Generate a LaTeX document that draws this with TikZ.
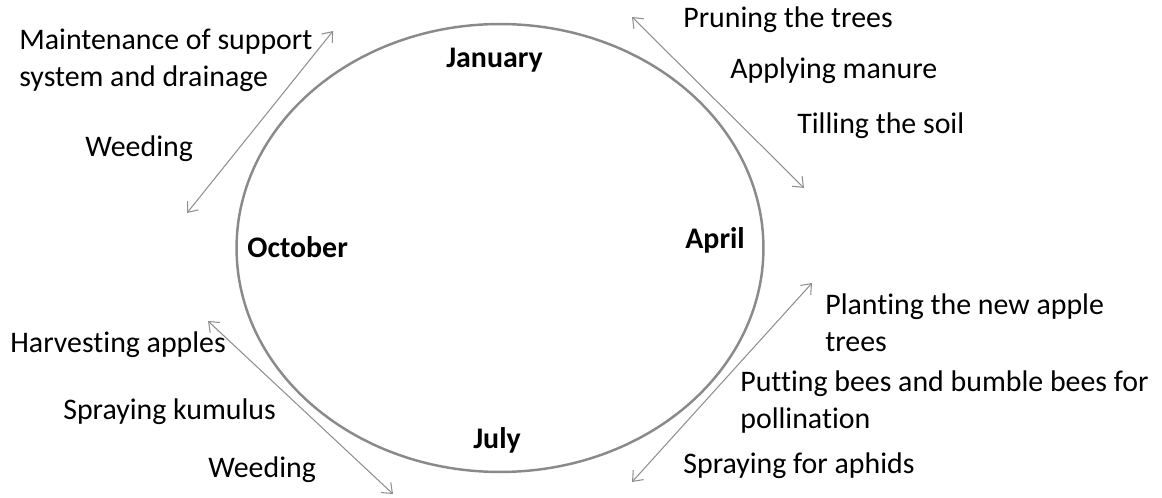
\documentclass[tikz,border=0pt]{standalone}
\usepackage{fontspec}
\setmainfont{Carlito}[Ligatures=NoCommon]
\usetikzlibrary{arrows.meta}
\definecolor{CycleGrey}{HTML}{8A8A8A}
\definecolor{ArrowGrey}{HTML}{8F8F8F}
\tikzset{
    task/.style={anchor=base west,inner sep=0pt,align=left,font=\fontsize{17}{20.5}\selectfont},
    month/.style={anchor=base west,inner sep=0pt,font=\fontsize{17}{20.5}\selectfont\bfseries},
    span/.style={draw=ArrowGrey,line width=0.6pt,{Straight Barb[length=5pt,width=8pt]}-{Straight Barb[length=5pt,width=8pt]}}
}

\begin{document}
\begin{tikzpicture}[x=0.02cm,y=-0.02cm]
    \useasboundingbox (0,0) rectangle (1162,497);
    \draw[CycleGrey,line width=1.4pt] (500,248) ellipse [x radius=5.27cm,y radius=4.48cm];

    \node[month] (jan) at (446,67) {January};
    \node[month] (apr) at (685,248) {April};
    \node[month] (jul) at (473,448) {July};
    \node[month] (oct) at (247,257) {October};

    \node[task] (maint) at (19,86) {Maintenance of support\\system and drainage};
    \node[task] (weedwinter) at (85,156) {Weeding};
    \node[task] (prune) at (683,28) {Pruning the trees};
    \node[task] (manure) at (730,78) {Applying manure};
    \node[task] (till) at (797,133) {Tilling the soil};
    \node[task] (plant) at (825,351) {Planting the new apple\\trees};
    \node[task] (bees) at (740,428) {Putting bees and bumble bees for\\pollination};
    \node[task] (aphids) at (683,473) {Spraying for aphids};
    \node[task] (harvest) at (10,352) {Harvesting apples};
    \node[task] (kumulus) at (63,419) {Spraying kumulus};
    \node[task] (weedautumn) at (208,477) {Weeding};

    \coordinate (winterA) at (333,31);
    \coordinate (winterB) at (187,213);
    \coordinate (springA) at (632,17);
    \coordinate (springB) at (804,188);
    \coordinate (summerA) at (812,283);
    \coordinate (summerB) at (632,482);
    \coordinate (autumnA) at (208,321);
    \coordinate (autumnB) at (393,494);

    \draw[span] (winterA) -- (winterB);
    \draw[span] (springA) -- (springB);
    \draw[span] (summerA) -- (summerB);
    \draw[span] (autumnA) -- (autumnB);
\end{tikzpicture}
\end{document}
